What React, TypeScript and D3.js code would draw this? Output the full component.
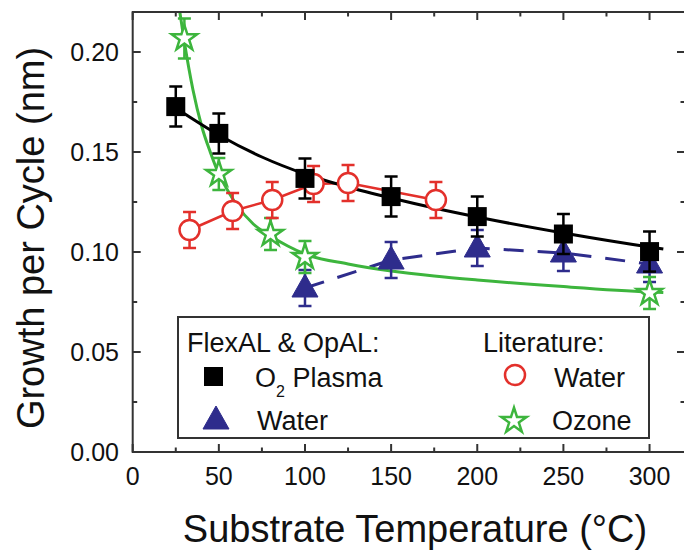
import React, { useEffect, useRef } from "react";
import * as d3 from "d3";

// ---- Data ----
const plasmaX = [25, 50, 100, 150, 200, 250, 300];
const plasmaY = [0.1727, 0.1593, 0.1368, 0.1277, 0.1177, 0.109, 0.1002];
const plasmaErr = [0.01, 0.01, 0.01, 0.01, 0.01, 0.01, 0.01];

const plasmaFitX = [25, 50, 75, 100, 125, 150, 175, 200, 250, 300, 308];
const plasmaFitY = [0.172, 0.1585, 0.1475, 0.139, 0.1325, 0.127, 0.122, 0.1175, 0.1095, 0.1025, 0.1015];

const waterX = [100, 150, 200, 250, 300];
const waterY = [0.082, 0.096, 0.102, 0.0995, 0.094];
const waterErr = [0.009, 0.009, 0.009, 0.009, 0.009];

const litWaterX = [33, 58, 81, 105, 125, 176];
const litWaterY = [0.111, 0.1205, 0.126, 0.134, 0.1345, 0.126];
const litWaterErr = [0.009, 0.009, 0.009, 0.009, 0.009, 0.009];

const ozoneX = [30, 50, 80, 100, 300];
const ozoneY = [0.2068, 0.139, 0.109, 0.0975, 0.0795];
const ozoneErr = [0.01, 0.008, 0.008, 0.008, 0.008];

const ozoneFitX = [27, 30, 35, 40, 45, 50, 55, 60, 70, 80, 90, 100, 125, 150, 175, 200, 250, 300, 308];
const ozoneFitY = [0.222, 0.205, 0.181, 0.163, 0.15, 0.139, 0.131, 0.124, 0.114, 0.108, 0.103, 0.099, 0.094, 0.0905, 0.088, 0.086, 0.0827, 0.08, 0.0797];

const xTicks = [0, 50, 100, 150, 200, 250, 300];
const xMinor = [25, 75, 125, 175, 225, 275];
const yTicks = [0, 0.05, 0.1, 0.15, 0.2];
const yMinor = [0.025, 0.075, 0.125, 0.175];

const BLACK = "#000000";
const RED = "#e3302b";
const GREEN = "#3db53d";
const NAVY = "#2e2c8c";
const AXIS = "#333333";
const FONT = "'Liberation Sans', Arial, Helvetica, sans-serif";

export default function App() {
  const ref = useRef<SVGSVGElement>(null);

  useEffect(() => {
    const svg = d3.select(ref.current);
    svg.selectAll("*").remove();

    const L = 132.7, R = 684, T = 12, B = 452;
    const x = d3.scaleLinear().domain([0, 320]).range([L, R]);
    const y = d3.scaleLinear().domain([0, 0.22]).range([B, T]);

    svg.append("rect").attr("width", 684).attr("height", 552).attr("fill", "#fff");

    svg.append("defs").append("clipPath").attr("id", "plotclip")
      .append("rect").attr("x", L).attr("y", T).attr("width", R - L).attr("height", B - T);

    const plot = svg.append("g").attr("clip-path", "url(#plotclip)");

    const line = d3.line<[number, number]>()
      .x(d => x(d[0])).y(d => y(d[1]))
      .curve(d3.curveMonotoneX);
    const straight = d3.line<[number, number]>()
      .x(d => x(d[0])).y(d => y(d[1]));

    const zip = (a: number[], b: number[]) => a.map((v, i) => [v, b[i]] as [number, number]);

    // lines
    plot.append("path").attr("d", straight(zip(litWaterX, litWaterY)) as string)
      .attr("fill", "none").attr("stroke", RED).attr("stroke-width", 2.5);
    plot.append("path").attr("d", straight(zip(waterX, waterY)) as string)
      .attr("fill", "none").attr("stroke", NAVY).attr("stroke-width", 3)
      .attr("stroke-dasharray", "20 14");
    plot.append("path").attr("d", line(zip(ozoneFitX, ozoneFitY)) as string)
      .attr("fill", "none").attr("stroke", GREEN).attr("stroke-width", 3);
    plot.append("path").attr("d", line(zip(plasmaFitX, plasmaFitY)) as string)
      .attr("fill", "none").attr("stroke", BLACK).attr("stroke-width", 3);

    const errbars = (xs: number[], ys: number[], es: number[], color: string) => {
      const g = plot.append("g").attr("stroke", color).attr("stroke-width", 2.5).attr("fill", "none");
      xs.forEach((xv, i) => {
        const cx = x(xv), y1 = y(ys[i] + es[i]), y2 = y(ys[i] - es[i]);
        g.append("line").attr("x1", cx).attr("x2", cx).attr("y1", y1).attr("y2", y2);
        g.append("line").attr("x1", cx - 6.5).attr("x2", cx + 6.5).attr("y1", y1).attr("y2", y1);
        g.append("line").attr("x1", cx - 6.5).attr("x2", cx + 6.5).attr("y1", y2).attr("y2", y2);
      });
    };

    const sym = (type: d3.SymbolType, size: number) => d3.symbol().type(type).size(size)() as string;
    const triPath = "M0,-14L13,9L-13,9Z";

    // Water (FlexAL) triangles
    errbars(waterX, waterY, waterErr, NAVY);
    waterX.forEach((xv, i) => {
      plot.append("path").attr("d", triPath)
        .attr("transform", `translate(${x(xv)},${y(waterY[i])})`)
        .attr("fill", NAVY).attr("stroke", NAVY).attr("stroke-width", 1);
    });

    // Ozone stars
    errbars(ozoneX, ozoneY, ozoneErr, GREEN);
    ozoneX.forEach((xv, i) => {
      plot.append("path").attr("d", sym(d3.symbolStar, 200))
        .attr("transform", `translate(${x(xv)},${y(ozoneY[i])})`)
        .attr("fill", "#fff").attr("stroke", GREEN).attr("stroke-width", 2.5);
    });

    // Literature water circles
    errbars(litWaterX, litWaterY, litWaterErr, RED);
    litWaterX.forEach((xv, i) => {
      plot.append("circle").attr("cx", x(xv)).attr("cy", y(litWaterY[i])).attr("r", 10)
        .attr("fill", "#fff").attr("stroke", RED).attr("stroke-width", 2.5);
    });

    // Plasma squares
    errbars(plasmaX, plasmaY, plasmaErr, BLACK);
    plasmaX.forEach((xv, i) => {
      plot.append("rect").attr("x", x(xv) - 9.5).attr("y", y(plasmaY[i]) - 9.5)
        .attr("width", 19).attr("height", 19).attr("fill", BLACK);
    });

    // Frame & ticks
    const ax = svg.append("g").attr("stroke", AXIS).attr("stroke-width", 2);
    ax.append("rect").attr("x", L).attr("y", T).attr("width", R - L + 2).attr("height", B - T).attr("fill", "none");
    xTicks.forEach(v => {
      ax.append("line").attr("x1", x(v)).attr("x2", x(v)).attr("y1", B).attr("y2", B - 8);
      ax.append("line").attr("x1", x(v)).attr("x2", x(v)).attr("y1", T).attr("y2", T + 8);
    });
    xMinor.forEach(v => {
      ax.append("line").attr("x1", x(v)).attr("x2", x(v)).attr("y1", B).attr("y2", B - 4.5);
      ax.append("line").attr("x1", x(v)).attr("x2", x(v)).attr("y1", T).attr("y2", T + 4.5);
    });
    yTicks.forEach(v => {
      ax.append("line").attr("x1", L).attr("x2", L + 8).attr("y1", y(v)).attr("y2", y(v));
      ax.append("line").attr("x1", R + 1).attr("x2", R - 7).attr("y1", y(v)).attr("y2", y(v));
    });
    yMinor.forEach(v => {
      ax.append("line").attr("x1", L).attr("x2", L + 4.5).attr("y1", y(v)).attr("y2", y(v));
      ax.append("line").attr("x1", R + 1).attr("x2", R - 3.5).attr("y1", y(v)).attr("y2", y(v));
    });

    // Tick labels
    const txt = svg.append("g").attr("font-family", FONT).attr("fill", "#111");
    xTicks.forEach(v => {
      txt.append("text").attr("x", x(v)).attr("y", 485).attr("text-anchor", "middle")
        .attr("font-size", 25).text(String(v));
    });
    yTicks.forEach(v => {
      txt.append("text").attr("x", 119).attr("y", y(v)).attr("dy", "0.35em").attr("text-anchor", "end")
        .attr("font-size", 25).text(d3.format(".2f")(v));
    });

    // Axis titles
    txt.append("text").attr("x", 415).attr("y", 542).attr("text-anchor", "middle")
      .attr("font-size", 38).text("Substrate Temperature (°C)");
    txt.append("text").attr("transform", "translate(44,238) rotate(-90)").attr("text-anchor", "middle")
      .attr("font-size", 38).text("Growth per Cycle (nm)");

    // Legend
    const lg = svg.append("g");
    lg.append("rect").attr("x", 178).attr("y", 317).attr("width", 471).attr("height", 121)
      .attr("fill", "#fff").attr("stroke", AXIS).attr("stroke-width", 2);
    const lt = lg.append("g").attr("font-family", FONT).attr("fill", "#111").attr("font-size", 27);
    lt.append("text").attr("x", 187).attr("y", 352).text("FlexAL & OpAL:");
    lt.append("text").attr("x", 483).attr("y", 352).text("Literature:");
    const o2 = lt.append("text").attr("x", 255).attr("y", 387);
    o2.append("tspan").text("O");
    o2.append("tspan").attr("font-size", 16).attr("dy", 10).text("2");
    o2.append("tspan").attr("dy", -10).text(" Plasma");
    lt.append("text").attr("x", 257).attr("y", 430).text("Water");
    lt.append("text").attr("x", 554).attr("y", 387).text("Water");
    lt.append("text").attr("x", 552).attr("y", 430).text("Ozone");

    lg.append("rect").attr("x", 204).attr("y", 367).attr("width", 19).attr("height", 19).attr("fill", BLACK);
    lg.append("path").attr("d", triPath).attr("transform", "translate(216,420)")
      .attr("fill", NAVY).attr("stroke", NAVY).attr("stroke-width", 1);
    lg.append("circle").attr("cx", 515).attr("cy", 375).attr("r", 10)
      .attr("fill", "#fff").attr("stroke", RED).attr("stroke-width", 2.5);
    lg.append("path").attr("d", sym(d3.symbolStar, 200)).attr("transform", "translate(514,421)")
      .attr("fill", "#fff").attr("stroke", GREEN).attr("stroke-width", 2.5);
  }, []);

  return (
    <svg ref={ref} width={684} height={552}
      style={{ position: "absolute", left: 0, top: 0, display: "block" }} />
  );
}
